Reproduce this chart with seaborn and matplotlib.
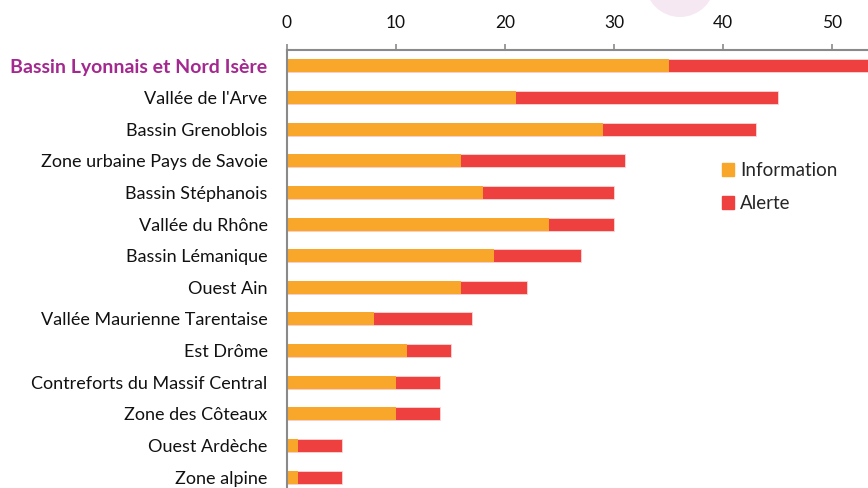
import numpy as np
import pandas as pd
import matplotlib.pyplot as plt
import seaborn as sns
from matplotlib.patches import Circle, Patch

# zones and number of days per procedure level
zones = ["Bassin Lyonnais et Nord Isère", "Vallée de l'Arve", "Bassin Grenoblois",
         "Zone urbaine Pays de Savoie", "Bassin Stéphanois", "Vallée du Rhône",
         "Bassin Lémanique", "Ouest Ain", "Vallée Maurienne Tarentaise", "Est Drôme",
         "Contreforts du Massif Central", "Zone des Côteaux", "Ouest Ardèche", "Zone alpine"]
information = [35, 21, 29, 16, 18, 24, 19, 16, 8, 11, 10, 10, 1, 1]
alerte = [20, 24, 14, 15, 12, 6, 8, 6, 9, 4, 4, 4, 4, 4]
x_ticks = [0, 10, 20, 30, 40, 50]

orange = "#F9A72B"
red = "#EF4040"
magenta = "#A3288F"

df = pd.DataFrame({"zone": zones, "Information": information, "Alerte": alerte})
df["total"] = df["Information"] + df["Alerte"]

sns.set_style("white")
plt.rcParams["font.family"] = ["Lato", "DejaVu Sans"]

fig = plt.figure(figsize=(8.68, 4.88), dpi=100)
ax = fig.add_axes([287 / 868, -5 / 488, 581 / 868, 443 / 488])

# decorative circle at the top
fig.patches.append(Circle((6.80, 4.88 + 0.18), 0.35, transform=fig.dpi_scale_trans,
                          facecolor="#F6E8F2", edgecolor="none", zorder=0))

sns.barplot(data=df, y="zone", x="total", color=red, orient="h", width=0.41,
            saturation=1, edgecolor="#FBD5D5", linewidth=0.6, ax=ax)
sns.barplot(data=df, y="zone", x="Information", color=orange, orient="h", width=0.41,
            saturation=1, edgecolor="none", linewidth=0, ax=ax)

ax.set_xlim(0, 53.3)
ax.set_ylim(13.5, -0.5)
ax.xaxis.tick_top()
ax.set_xticks(x_ticks)
ax.set_xlabel("")
ax.set_ylabel("")
ax.tick_params(axis="x", length=4, width=1.2, color="#8A8A8A", labelsize=12.5, pad=10,
               labelcolor="#111111")
ax.set_yticks(np.arange(len(zones)))
ax.set_yticklabels(zones)
ax.tick_params(axis="y", length=0, labelsize=13, pad=14, labelcolor="#111111")
ax.set_yticks(np.arange(len(zones)) - 0.5, minor=True)
ax.tick_params(axis="y", which="minor", length=4, width=1.2, color="#8A8A8A")
first = ax.get_yticklabels()[0]
first.set_color(magenta)
first.set_fontweight("bold")
first.set_fontsize(14)

for side in ["right", "bottom"]:
    ax.spines[side].set_visible(False)
for side in ["top", "left"]:
    ax.spines[side].set_color("#8A8A8A")
    ax.spines[side].set_linewidth(1.5)

handles = [Patch(color=orange, label="Information"), Patch(color=red, label="Alerte")]
ax.legend(handles=handles, loc="upper left", bbox_to_anchor=(0.72, 0.785), frameon=False,
          fontsize=13.5, handlelength=0.65, handleheight=0.65, handletextpad=0.3,
          labelspacing=0.85)

fig.savefig("out.png", dpi=100)
